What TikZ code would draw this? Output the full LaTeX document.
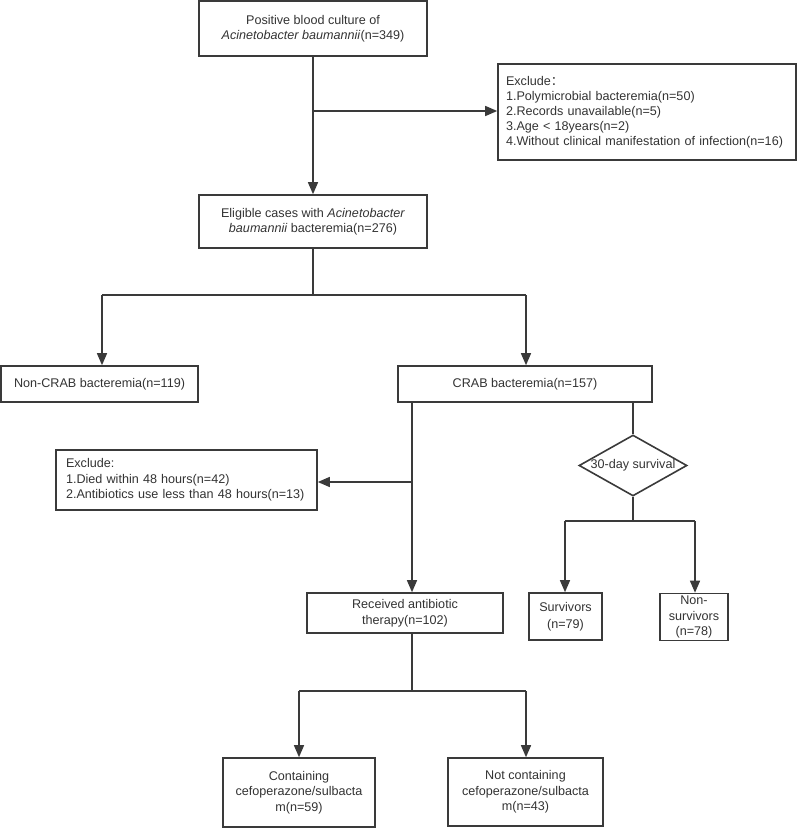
\documentclass[tikz,border=0pt]{standalone}
\usepackage{fontspec}
\setmainfont{Liberation Sans}
\newfontfamily\cjkfont{Noto Sans CJK SC}
\usetikzlibrary{arrows.meta,shapes.geometric}
\definecolor{ink}{HTML}{333333}
\definecolor{edge}{HTML}{3A3A3A}
\begin{document}
\begin{tikzpicture}[x=1pt,y=-1pt,
  box/.style={draw=edge,line width=1.6pt,rectangle,inner sep=0pt,text=ink,align=center,font=\fontsize{12.6}{15.5}\selectfont},
  conn/.style={draw=edge,line width=1.4pt},
  arr/.style={conn,-{Triangle[length=12pt,width=10pt]}}]
\useasboundingbox (0,0) rectangle (800,829);

% boxes
\node[box,minimum width=228pt,minimum height=55pt,font=\fontsize{12.6}{14.5}\selectfont] (b1) at (313,28.5)
  {Positive blood culture of\\\textit{Acinetobacter baumannii}(n=349)};
\node[box,minimum width=298pt,minimum height=96pt,text width=282pt,align=left,font=\fontsize{12.6}{15}\selectfont] (ex1) at (647,112)
  {Exclude{\cjkfont ：}\\1.Polymicrobial bacteremia(n=50)\\2.Records unavailable(n=5)\\3.Age < 18years(n=2)\\4.Without clinical manifestation of infection(n=16)};
\node[box,minimum width=228pt,minimum height=53pt] (b2) at (313,221.5)
  {Eligible cases with \textit{Acinetobacter}\\\textit{baumannii} bacteremia(n=276)};
\node[box,minimum width=197pt,minimum height=36pt] (nc) at (99.5,384) {Non-CRAB bacteremia(n=119)};
\node[box,minimum width=254pt,minimum height=36pt] (crab) at (525,384) {CRAB bacteremia(n=157)};
\node[box,minimum width=261pt,minimum height=60pt,text width=241pt,align=left] (ex2) at (186.5,480)
  {Exclude:\\1.Died within 48 hours(n=42)\\2.Antibiotics use less than 48 hours(n=13)};
\node[draw=edge,line width=1.6pt,shape=diamond,aspect=1.77,minimum width=108pt,minimum height=61pt,inner sep=0pt,text=ink,font=\fontsize{12.6}{14}\selectfont] (dia) at (633,465.5) {30-day survival};
\node[box,minimum width=196pt,minimum height=40pt] (rec) at (405,613)
  {Received antibiotic\\therapy(n=102)};
\node[box,minimum width=73pt,minimum height=47pt,font=\fontsize{12.6}{17}\selectfont] (sur) at (565.5,616.5)
  {Survivors\\(n=79)};
\node[box,minimum width=68pt,minimum height=47pt,font=\fontsize{12.6}{15.5}\selectfont] (nsur) at (694,617)
  {Non-\\survivors\\(n=78)};
\node[box,minimum width=152pt,minimum height=69pt] (con) at (299,792.5)
  {Containing\\cefoperazone/sulbacta\\m(n=59)};
\node[box,minimum width=155pt,minimum height=68pt] (ncon) at (525.5,792)
  {Not containing\\cefoperazone/sulbacta\\m(n=43)};

% junction coordinates
\coordinate (j1) at (313,111);
\coordinate (j2) at (313,295);
\coordinate (j2L) at (102,295);
\coordinate (j2R) at (526,295);
\coordinate (c1) at (412,402);
\coordinate (j3) at (412,482);
\coordinate (j4) at (633,521);
\coordinate (j4L) at (565,521);
\coordinate (j4R) at (695,521);
\coordinate (r1) at (412,633);
\coordinate (j5) at (412,691);
\coordinate (j5L) at (299,691);
\coordinate (j5R) at (526,691);

% connectors
\draw[arr] (b1.south) -- (b2.north);
\draw[arr] (j1) -- (ex1.west |- j1);
\draw[conn] (b2.south) -- (j2);
\draw[conn] (j2L) -- (j2R);
\draw[arr] (j2L) -- (j2L |- nc.north);
\draw[arr] (j2R) -- (j2R |- crab.north);
\draw[arr] (c1) -- (c1 |- rec.north);
\draw[arr] (j3) -- (ex2.east |- j3);
\draw[conn] (dia.north |- crab.south) -- (dia.north);
\draw[conn] (dia.south) -- (j4);
\draw[conn] (j4L) -- (j4R);
\draw[arr] (j4L) -- (j4L |- sur.north);
\draw[arr] (j4R) -- (j4R |- nsur.north);
\draw[conn] (r1) -- (j5);
\draw[conn] (j5L) -- (j5R);
\draw[arr] (j5L) -- (j5L |- con.north);
\draw[arr] (j5R) -- (j5R |- ncon.north);
\end{tikzpicture}
\end{document}
